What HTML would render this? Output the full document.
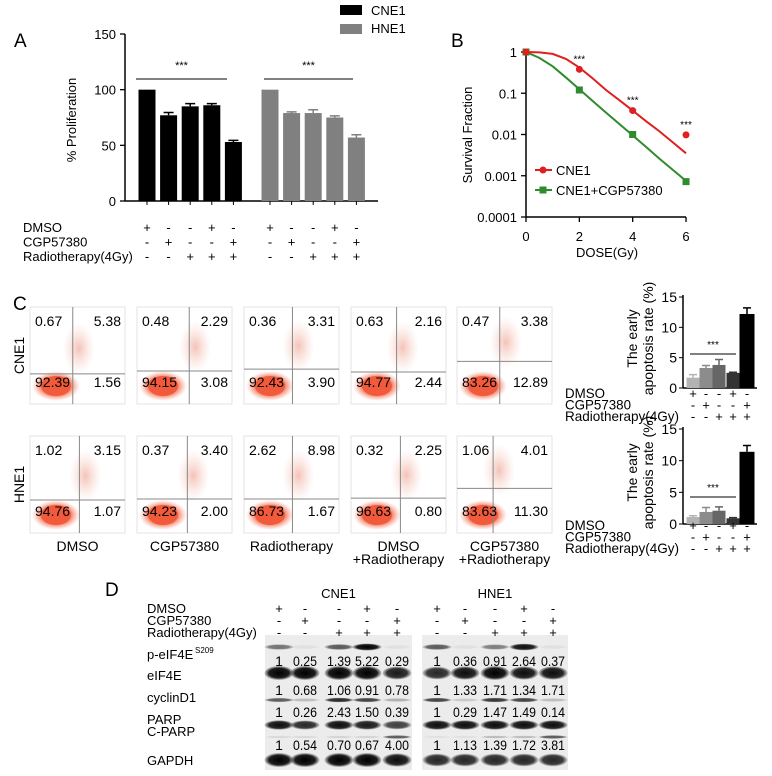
<!DOCTYPE html>
<html><head><meta charset="utf-8">
<style>
html,body{margin:0;padding:0;background:#fff;}
svg{display:block;font-family:"Liberation Sans",Arial,sans-serif;}
</style></head>
<body>
<svg id="fig" width="772" height="776" viewBox="0 0 772 776" xmlns="http://www.w3.org/2000/svg">
<defs>
<radialGradient id="blob" cx="50%" cy="50%" r="50%">
<stop offset="0" stop-color="#f2593a" stop-opacity="1"/>
<stop offset="0.6" stop-color="#f4694b" stop-opacity="0.9"/>
<stop offset="1" stop-color="#f7a18c" stop-opacity="0"/>
</radialGradient>
<radialGradient id="haze" cx="50%" cy="50%" r="50%">
<stop offset="0" stop-color="#e8785f" stop-opacity="0.45"/>
<stop offset="1" stop-color="#f0b0a0" stop-opacity="0"/>
</radialGradient>
<radialGradient id="band" cx="50%" cy="50%" r="50%">
<stop offset="0" stop-color="#000" stop-opacity="1"/>
<stop offset="0.7" stop-color="#111" stop-opacity="0.95"/>
<stop offset="1" stop-color="#333" stop-opacity="0.2"/>
</radialGradient>
</defs>
</svg>
<script>
// ---------- Panel A data ----------
const aTicks=[0,50,100,150];
const aCNE1=[100,77,85,86,53];
const aCNE1Err=[0,2.5,2.5,1.5,1.5];
const aHNE1=[100,79,79,75,57];
const aHNE1Err=[0,1,3,1.5,2.5];
const signDMSO=['+','-','-','+','-'];
const signCGP=['-','+','-','-','+'];
const signRT=['-','-','+','+','+'];
// ---------- Panel B data ----------
const bDoses=[0,2,4,6];
const bCNE1=[1,0.38,0.038,0.0098];
const bCGP=[1,0.12,0.01,0.00072];
const bFitDose=[0,0.5,1,1.5,2,2.5,3,3.5,4,4.5,5,5.5,6];
const bFitCNE1=[1,0.98,0.9,0.68,0.42,0.23,0.12,0.068,0.038,0.021,0.012,0.0065,0.0035];
const bFitCGP=[1,0.72,0.45,0.24,0.125,0.065,0.034,0.018,0.0095,0.005,0.0026,0.0014,0.00075];
const bTicks=[1,0.1,0.01,0.001,0.0001];
const bTickLabels=['1','0.1','0.01','0.001','0.0001'];
const bXTicks=[0,2,4,6];
// ---------- Panel C data ----------
const cCols=['DMSO','CGP57380','Radiotherapy','DMSO\n+Radiotherapy','CGP57380\n+Radiotherapy'];
const cCNE1Q=[[0.67,5.38,92.39,1.56],[0.48,2.29,94.15,3.08],[0.36,3.31,92.43,3.90],[0.63,2.16,94.77,2.44],[0.47,3.38,83.26,12.89]];
const cHNE1Q=[[1.02,3.15,94.76,1.07],[0.37,3.40,94.23,2.00],[2.62,8.98,86.73,1.67],[0.32,2.25,96.63,0.80],[1.06,4.01,83.63,11.30]];
const cCNE1Div=[[0.45,0.69],[0.55,0.66],[0.51,0.64],[0.48,0.67],[0.45,0.56]];
const cHNE1Div=[[0.52,0.66],[0.53,0.65],[0.51,0.65],[0.52,0.64],[0.38,0.54]];
const cEarlyCNE1=[1.7,3.3,3.8,2.5,12.2];
const cEarlyCNE1Err=[0.5,0.4,0.9,0.1,1.0];
const cEarlyHNE1=[1.1,1.9,2.1,0.9,11.4];
const cEarlyHNE1Err=[0.2,0.7,0.6,0.1,1.0];
const cTicks=[0,5,10,15];
// ---------- Panel D data ----------
const dRowLabels=['p-eIF4E','eIF4E','cyclinD1','PARP','C-PARP','GAPDH'];
const dNumCNE1=[['1','0.25','1.39','5.22','0.29'],['1','0.68','1.06','0.91','0.78'],['1','0.26','2.43','1.50','0.39'],['1','0.54','0.70','0.67','4.00']];
const dNumHNE1=[['1','0.36','0.91','2.64','0.37'],['1','1.33','1.71','1.34','1.71'],['1','0.29','1.47','1.49','0.14'],['1','1.13','1.39','1.72','3.81']];
const dBandCNE1=[[0.5,0.05,0.6,1,0.05],[1,1,1,1,0.85],[0.6,0.2,0.8,0.7,0.25],[0.9,0.8,0.9,0.85,0.7],[0.08,0.08,0.1,0.1,0.6],[1,1,1,1,0.9]];
const dBandHNE1=[[0.6,0.05,0.45,0.9,0.05],[0.8,0.9,1,0.9,0.9],[0.7,0.15,0.75,0.7,0.2],[0.9,0.9,0.9,0.9,0.9],[0.05,0.05,0.2,0.2,0.6],[0.8,0.8,0.8,0.8,0.8]];

const NS='http://www.w3.org/2000/svg';
const svg=document.getElementById('fig');
function mk(tag,a,p){const e=document.createElementNS(NS,tag);for(const k in a)e.setAttribute(k,a[k]);(p||svg).appendChild(e);return e;}
function tx(s,a,p){const e=mk('text',a,p);e.textContent=s;return e;}
let el;

// ================= PANEL A =================
const gA=mk('g',{});


const yA=v=>201-v/150*167;
const xA=(g,i)=>(g?270:147)+i*21.6;
el=tx('A',{x:14,y:47,'font-size':19},gA);


el=mk('line',{x1:125,y1:34,x2:125,y2:201,stroke:'#000','stroke-width':1.5},gA);


el=mk('line',{x1:125,y1:201,x2:378,y2:201,stroke:'#000','stroke-width':1.5},gA);


aTicks.forEach(t=>{
  el=mk('line',{x1:120,y1:yA(t),x2:125,y2:yA(t),stroke:'#000','stroke-width':1.3},gA);
  
  
  el=tx(String(t),{x:116,y:yA(t)+5,'font-size':13,'text-anchor':'end'},gA);
  
  
});
el=tx('% Proliferation',{x:0,y:0,'font-size':13,'text-anchor':'middle',transform:'translate(76,120) rotate(-90)'},gA);


[[aCNE1,aCNE1Err,'#000'],[aHNE1,aHNE1Err,'#808080']].forEach((s,g)=>{
  s[0].forEach((v,i)=>{
    const cx=xA(g,i);
    el=mk('rect',{x:cx-8.5,y:yA(v),width:17,height:201-yA(v),fill:s[2]},gA);
    
    
    if(s[1][i]>0){
      el=mk('path',{d:`M${cx} ${yA(v)} V${yA(v+s[1][i])} M${cx-5} ${yA(v+s[1][i])} H${cx+5}`,stroke:s[2],'stroke-width':1.5,fill:'none'},gA);
      
      
    }
    el=mk('line',{x1:cx,y1:201,x2:cx,y2:205,stroke:'#000'},gA);
    
    
    [signDMSO,signCGP,signRT].forEach((arr,r)=>{
      el=tx(arr[i],{x:cx,y:232+r*14.5,'font-size':13,'text-anchor':'middle'},gA);
      
      
    });
  });
});
['DMSO','CGP57380','Radiotherapy(4Gy)'].forEach((t,r)=>{
  el=tx(t,{x:23,y:232+r*14.5,'font-size':13},gA);
  
  
});
[[136,227],[264,353]].forEach(([a,b])=>{
  el=mk('line',{x1:a,y1:79,x2:b,y2:79,stroke:'#000','stroke-width':1},gA);
  
  
  el=tx('***',{x:(a+b)/2,y:69,'font-size':11,'text-anchor':'middle'},gA);
  
  
});
el=mk('rect',{x:340,y:5,width:22,height:10,fill:'#000'},gA);


el=tx('CNE1',{x:371,y:15,'font-size':13},gA);


el=mk('rect',{x:340,y:24,width:22,height:10,fill:'#808080'},gA);


el=tx('HNE1',{x:371,y:33,'font-size':13},gA);



// ================= PANEL B =================
const gB=mk('g',{});


const yB=v=>52-Math.log10(v)*41.25;
const xB=d=>526+d*26.67;
el=tx('B',{x:451,y:47,'font-size':19},gB);


el=mk('line',{x1:526,y1:50,x2:526,y2:217,stroke:'#000','stroke-width':1.5},gB);


el=mk('line',{x1:526,y1:217,x2:686,y2:217,stroke:'#000','stroke-width':1.5},gB);


bTicks.forEach((t,i)=>{
  el=mk('line',{x1:521,y1:yB(t),x2:526,y2:yB(t),stroke:'#000','stroke-width':1.3},gB);
  
  
  el=tx(bTickLabels[i],{x:517,y:yB(t)+5,'font-size':13,'text-anchor':'end'},gB);
  
  
});
bXTicks.forEach(t=>{
  el=mk('line',{x1:xB(t),y1:217,x2:xB(t),y2:222,stroke:'#000','stroke-width':1.3},gB);
  
  
  el=tx(String(t),{x:xB(t),y:241,'font-size':13,'text-anchor':'middle'},gB);
  
  
});
el=tx('DOSE(Gy)',{x:607,y:257,'font-size':13,'text-anchor':'middle'},gB);


el=tx('Survival Fraction',{x:0,y:0,'font-size':13,'text-anchor':'middle',transform:'translate(472,135) rotate(-90)'},gB);


el=mk('path',{d:bFitDose.map((d,i)=>(i?'L':'M')+xB(d)+' '+yB(bFitCGP[i])).join(' '),stroke:'#2e8b2e','stroke-width':2,fill:'none'},gB);


el=mk('path',{d:bFitDose.map((d,i)=>(i?'L':'M')+xB(d)+' '+yB(bFitCNE1[i])).join(' '),stroke:'#e02020','stroke-width':2,fill:'none'},gB);


bDoses.forEach((d,i)=>{
  el=mk('rect',{x:xB(d)-3.5,y:yB(bCGP[i])-3.5,width:7,height:7,fill:'#2e8b2e'},gB);
  
  
  el=mk('circle',{cx:xB(d),cy:yB(bCNE1[i]),r:3.5,fill:'#e02020'},gB);
  
  
  if(i>0){
    el=tx('***',{x:xB(d),y:yB(bCNE1[i])-7,'font-size':10,'text-anchor':'middle'},gB);
    
    
  }
});
el=mk('line',{x1:535,y1:170,x2:552,y2:170,stroke:'#e02020','stroke-width':2},gB);


el=mk('circle',{cx:543,cy:170,r:3.5,fill:'#e02020'},gB);


el=tx('CNE1',{x:556,y:175,'font-size':13},gB);


el=mk('line',{x1:535,y1:190,x2:552,y2:190,stroke:'#2e8b2e','stroke-width':2},gB);


el=mk('rect',{x:539.5,y:186.5,width:7,height:7,fill:'#2e8b2e'},gB);


el=tx('CNE1+CGP57380',{x:556,y:195,'font-size':13},gB);



// ================= PANEL C flow =================
const gC=mk('g',{});


el=tx('C',{x:13,y:310,'font-size':19},gC);


const plotX=[30,137,244,351,457], pW=95;
const rows=[{top:307,bot:404,q:cCNE1Q,div:cCNE1Div,name:'CNE1'},{top:436,bot:533,q:cHNE1Q,div:cHNE1Div,name:'HNE1'}];
rows.forEach((r,ri)=>{
  el=tx(r.name,{x:0,y:0,'font-size':14,'text-anchor':'middle',transform:`translate(24,${(r.top+r.bot)/2}) rotate(-90)`},gC);
  
  
  plotX.forEach((x0,pi)=>{
    const h=r.bot-r.top, dv=r.div[pi];
    const vx=x0+dv[0]*pW, hy=r.top+dv[1]*h;
    el=mk('rect',{x:x0,y:r.top,width:pW,height:h,fill:'#fff',stroke:'#ddd','stroke-width':0.8},gC);
    
    
    el=mk('ellipse',{cx:vx+6,cy:(r.top+hy)/2+8,rx:16,ry:26,fill:'url(#haze)'},gC);
    
    
    el=mk('ellipse',{cx:x0+26,cy:r.bot-18,rx:24,ry:15,fill:'url(#blob)'},gC);
    
    
    el=mk('ellipse',{cx:x0+26,cy:r.bot-18,rx:15,ry:10,fill:'#f25a3c'},gC);
    
    
    el=mk('line',{x1:vx,y1:r.top,x2:vx,y2:r.bot,stroke:'#888','stroke-width':1},gC);
    
    
    el=mk('line',{x1:x0,y1:hy,x2:x0+pW,y2:hy,stroke:'#888','stroke-width':1},gC);
    
    
    const q=r.q[pi];
    const ty=r.top+19, by=r.bot-17;
    [[q[0],x0+5,ty,'start'],[q[1],x0+pW-4,ty,'end'],[q[2],x0+5,by,'start'],[q[3],x0+pW-4,by,'end']].forEach(a=>{
      el=tx(a[0].toFixed(2),{x:a[1],y:a[2],'font-size':14,'text-anchor':a[3]},gC);
      
      
    });
    if(ri===1){
      cCols[pi].split('\n').forEach((ln,li)=>{
        el=tx(ln,{x:x0+pW/2,y:551+li*13,'font-size':14,'text-anchor':'middle'},gC);
        
        
      });
    }
  });
});
// ---- Panel C bar charts ----
const cBarX=[693,706,719,733,747], cBarW=[13,13,13,13,15];
const cBarCol=['#b3b3b3','#8c8c8c','#666','#333','#000'];
const charts=[{y0:388,y15:297,v:cEarlyCNE1,e:cEarlyCNE1Err,sig:354,row:398},{y0:524,y15:429,v:cEarlyHNE1,e:cEarlyHNE1Err,sig:497,row:530}];
charts.forEach((c,ci)=>{
  const yC=v=>c.y0-v/15*(c.y0-c.y15);
  el=mk('line',{x1:683,y1:c.y15-2,x2:683,y2:c.y0,stroke:'#000','stroke-width':1.5},gC);
  
  
  el=mk('line',{x1:683,y1:c.y0,x2:757,y2:c.y0,stroke:'#000','stroke-width':1.5},gC);
  
  
  cTicks.forEach(t=>{
    el=mk('line',{x1:679,y1:yC(t),x2:683,y2:yC(t),stroke:'#000'},gC);
    
    
    el=tx(String(t),{x:677,y:yC(t)+5,'font-size':14,'text-anchor':'end'},gC);
    
    
  });
  el=tx('The early',{x:0,y:0,'font-size':14,'text-anchor':'middle',transform:`translate(637,${(c.y0+c.y15)/2-4}) rotate(-90)`},gC);
  
  
  el=tx('apoptosis rate (%)',{x:0,y:0,'font-size':14,'text-anchor':'middle',transform:`translate(653,${(c.y0+c.y15)/2-4}) rotate(-90)`},gC);
  
  
  c.v.forEach((v,i)=>{
    const cx=cBarX[i], w=cBarW[i];
    el=mk('path',{d:`M${cx} ${yC(v)} V${yC(v+c.e[i])} M${cx-4} ${yC(v+c.e[i])} H${cx+4}`,stroke:cBarCol[i],'stroke-width':1.5,fill:'none'},gC);
    
    
    el=mk('rect',{x:cx-w/2,y:yC(v),width:w,height:c.y0-yC(v),fill:cBarCol[i]},gC);
    
    
    [signDMSO,signCGP,signRT].forEach((arr,r)=>{
      el=tx(arr[i],{x:cx,y:c.row+r*11.5,'font-size':13,'text-anchor':'middle'},gC);
      
      
    });
  });
  [['DMSO',40],['CGP57380',66],['Radiotherapy(4Gy)',114]].forEach((t,r)=>{
    el=tx(t[0],{x:565,y:c.row+r*11.5,'font-size':14,textLength:t[1],lengthAdjust:'spacingAndGlyphs'},gC);
    
    
  });
  el=mk('line',{x1:690,y1:c.sig,x2:736,y2:c.sig,stroke:'#000'},gC);
  
  
  el=tx('***',{x:713,y:c.sig-6,'font-size':10,'text-anchor':'middle'},gC);
  
  
});

// ================= PANEL D =================
const gD=mk('g',{});


el=tx('D',{x:105,y:596,'font-size':19},gD);


const blots=[{x0:265,x1:412,lanes:[279,305,339,367,397],num:dNumCNE1,band:dBandCNE1,name:'CNE1',bw:27},{x0:422,x1:568,lanes:[437,465,495,524,553],num:dNumHNE1,band:dBandHNE1,name:'HNE1',bw:27}];
const bandY=[647,673,700,725,737,760], bandH=[6,13,4,9,3,13];
const numY=[666,695,717,750];
blots.forEach(b=>{
  el=tx(b.name,{x:(b.x0+b.x1)/2,y:598,'font-size':13,'text-anchor':'middle'},gD);
  
  
  el=mk('rect',{x:b.x0,y:635,width:b.x1-b.x0,height:135,fill:'#ececec'},gD);
  
  
  b.lanes.forEach((lx,i)=>{
    [signDMSO,signCGP,signRT].forEach((arr,r)=>{
      el=tx(arr[i],{x:lx,y:613+r*12,'font-size':13,'text-anchor':'middle'},gD);
      
      
    });
    b.band.forEach((row,ri)=>{
      const s=row[i];
      el=mk('ellipse',{cx:lx,cy:bandY[ri],rx:b.bw/2+1,ry:bandH[ri]/2*(0.5+0.5*s)+0.5,fill:'url(#band)',opacity:Math.min(1,s*1.05)},gD);
      
      
    });
    b.num.forEach((row,ri)=>{
      const at={x:lx,y:numY[ri],'font-size':14,'text-anchor':'middle'};
      if(row[i].length>2){at.textLength=24;at.lengthAdjust='spacingAndGlyphs';}
      el=tx(row[i],at,gD);
      
      
    });
  });
});
['DMSO','CGP57380','Radiotherapy(4Gy)'].forEach((t,r)=>{
  el=tx(t,{x:147,y:613+r*12,'font-size':13},gD);
  
  
});
const labY=[659,680,702,724,736,765];
dRowLabels.forEach((t,i)=>{
  el=tx(t,{x:147,y:labY[i],'font-size':13},gD);
  
  
});
el=tx('S209',{x:195,y:653,'font-size':8},gD);


</script>
</body></html>
